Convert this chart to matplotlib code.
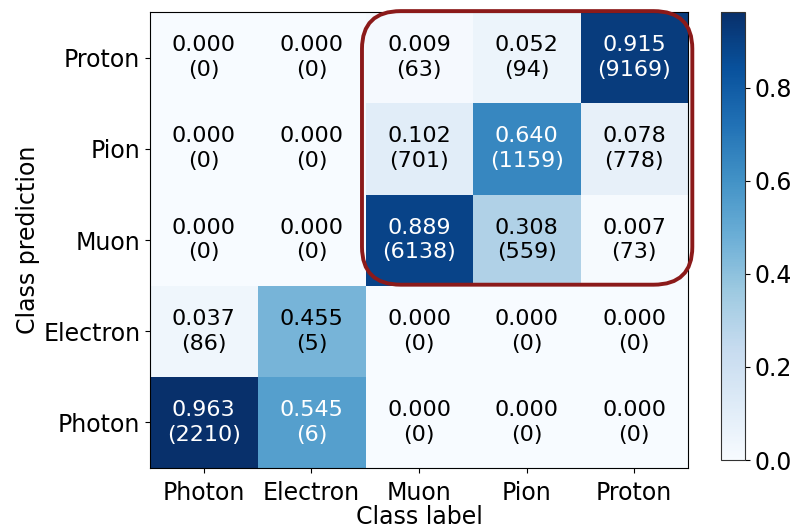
import numpy as np
import matplotlib
matplotlib.use("Agg")
import matplotlib.pyplot as plt
from matplotlib.patches import FancyBboxPatch

classes = ["Photon", "Electron", "Muon", "Pion", "Proton"]

# fractions per true class (columns = class label, rows = class prediction), bottom row first
fractions = np.array([
    [0.963, 0.545, 0.000, 0.000, 0.000],   # Photon
    [0.037, 0.455, 0.000, 0.000, 0.000],   # Electron
    [0.000, 0.000, 0.889, 0.308, 0.007],   # Muon
    [0.000, 0.000, 0.102, 0.640, 0.078],   # Pion
    [0.000, 0.000, 0.009, 0.052, 0.915],   # Proton
])
counts = np.array([
    [2210, 6, 0, 0, 0],
    [86, 5, 0, 0, 0],
    [0, 0, 6138, 559, 73],
    [0, 0, 701, 1159, 778],
    [0, 0, 63, 94, 9169],
])

fig = plt.figure(figsize=(7.92, 5.29), dpi=100)
ax = fig.add_axes([0.1894, 0.1153, 0.6793, 0.862])
cax = fig.add_axes([0.9104, 0.1304, 0.0298, 0.847])

im = ax.imshow(fractions, cmap="Blues", vmin=0, vmax=fractions.max(),
               origin="lower", aspect="auto", interpolation="nearest")

for i in range(len(classes)):
    for j in range(len(classes)):
        v = fractions[i, j]
        ax.text(j, i, f"{v:.3f}\n({counts[i, j]})", ha="center", va="center",
                fontsize=16, color="white" if v > 0.5 else "black",
                linespacing=1.3)

ax.set_xticks(range(len(classes)))
ax.set_xticklabels(classes, fontsize=17)
ax.set_yticks(range(len(classes)))
ax.set_yticklabels(classes, fontsize=17)
ax.tick_params(axis="x", pad=6)
ax.set_xlabel("Class label", fontsize=17, labelpad=0)
ax.set_ylabel("Class prediction", fontsize=17, labelpad=2)

# highlight the hadron/muon block
box = FancyBboxPatch((1.47, 1.51), 3.07, 3.0,
                     boxstyle="round,pad=0,rounding_size=0.36",
                     mutation_aspect=1.15,
                     facecolor="none", edgecolor="#8b1a1a", linewidth=2.8,
                     clip_on=False, zorder=5)
ax.add_patch(box)

cb = fig.colorbar(im, cax=cax, ticks=[0.0, 0.2, 0.4, 0.6, 0.8])
cb.ax.tick_params(labelsize=17)
cb.outline.set_edgecolor("#333333")
cb.ax.yaxis.set_major_formatter(matplotlib.ticker.FormatStrFormatter("%.1f"))

fig.savefig("out.png", dpi=100)
